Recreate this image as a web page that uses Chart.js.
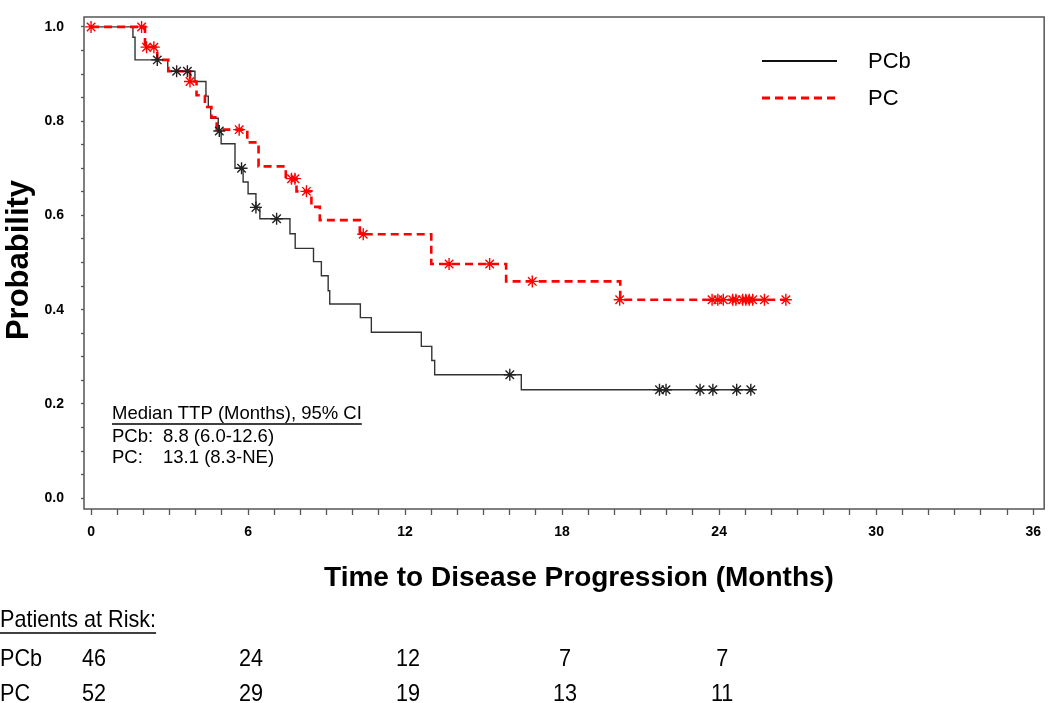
<!DOCTYPE html>
<html>
<head>
<meta charset="utf-8">
<script src="https://cdn.jsdelivr.net/npm/chart.js@4.4.0/dist/chart.umd.min.js"></script>
<style>
  body { margin: 0; background: #fff; }
  canvas { display: block; }
</style>
</head>
<body>
<canvas id="ctx-km" width="1050" height="703"></canvas>
<script>
// step points (months, survival probability)
const pcbTime = [0, 1.6, 1.68, 2.93, 3.97, 4.39, 4.48, 4.57, 4.86, 4.97, 5.5, 5.81, 6.0, 6.3, 6.45, 7.6, 7.8, 8.5, 8.8, 9.06, 9.12, 10.29, 10.71, 12.62, 13.02, 13.13, 16.44, 25.2];
const pcbProb = [1.0, 0.978, 0.93, 0.906, 0.884, 0.853, 0.83, 0.806, 0.779, 0.752, 0.70, 0.671, 0.646, 0.617, 0.593, 0.561, 0.53, 0.502, 0.472, 0.44, 0.412, 0.383, 0.352, 0.322, 0.292, 0.262, 0.23, 0.23];
const pcbCensorTime = [2.53, 3.27, 3.68, 4.9, 5.75, 6.3, 7.09, 16.0, 21.72, 21.97, 23.27, 23.76, 24.67, 25.21];
const pcbCensorProb = [0.93, 0.906, 0.906, 0.779, 0.70, 0.617, 0.593, 0.262, 0.23, 0.23, 0.23, 0.23, 0.23, 0.23];

const pcTime = [0, 2.06, 2.53, 2.95, 3.78, 4.03, 4.35, 4.6, 4.8, 5.97, 6.4, 7.44, 7.85, 8.42, 8.74, 10.27, 13.0, 15.86, 20.22, 26.55];
const pcProb = [1.0, 0.957, 0.93, 0.906, 0.884, 0.855, 0.83, 0.808, 0.782, 0.755, 0.704, 0.678, 0.651, 0.618, 0.59, 0.56, 0.497, 0.46, 0.421, 0.421];
const pcCensorTime = [0, 1.93, 2.12, 2.4, 3.78, 5.66, 7.66, 7.79, 8.23, 10.4, 13.68, 15.23, 16.86, 20.2, 23.73, 23.95, 24.16, 24.52, 24.64, 24.9, 25.02, 25.15, 25.28, 25.73, 26.55];
const pcCensorProb = [1.0, 1.0, 0.957, 0.957, 0.884, 0.782, 0.678, 0.678, 0.651, 0.56, 0.497, 0.497, 0.46, 0.421, 0.421, 0.421, 0.421, 0.421, 0.421, 0.421, 0.421, 0.421, 0.421, 0.421, 0.421];

const xTickValues = [...Array(37).keys()];
const xLabelEvery = 6;
const yTickValues = [...Array(21).keys()].map(i => i * 0.05);

const seriesNames = ['PCb', 'PC'];
const medianTitle = 'Median TTP (Months), 95% CI';
const medianLabels = ['PCb:', 'PC:'];
const medianValues = ['8.8 (6.0-12.6)', '13.1 (8.3-NE)'];

const riskTitle = 'Patients at Risk:';
const riskTimes = [0, 6, 12, 18, 24];
const pcbAtRisk = [46, 24, 12, 7, 7];
const pcAtRisk = [52, 29, 19, 13, 11];

const xTitle = 'Time to Disease Progression (Months)';
const yTitle = 'Probability';

const toPoints = (xs, ys) => xs.map((x, i) => ({ x: x, y: ys[i] }));

const FONT = '"Liberation Sans", Arial, sans-serif';

const textPlugin = {
    id: 'kmText',
    beforeDatasetsDraw: (chart) => {
        const { ctx, chartArea } = chart;
        ctx.save();
        ctx.strokeStyle = '#555';
        ctx.lineWidth = 1.5;
        ctx.strokeRect(chartArea.left, chartArea.top, chartArea.right - chartArea.left, chartArea.bottom - chartArea.top);
        ctx.restore();
    },
    afterDraw: (chart) => {
        const { ctx } = chart;
        const xs = chart.scales.x;
        ctx.save();
        ctx.fillStyle = '#000';
        ctx.textBaseline = 'middle';

        // legend
        ctx.lineWidth = 2;
        ctx.strokeStyle = '#111';
        ctx.beginPath(); ctx.moveTo(762, 61); ctx.lineTo(837, 61); ctx.stroke();
        ctx.strokeStyle = '#ff0000';
        ctx.lineWidth = 3;
        ctx.setLineDash([8, 5]);
        ctx.beginPath(); ctx.moveTo(762, 98); ctx.lineTo(837, 98); ctx.stroke();
        ctx.setLineDash([]);
        ctx.font = '22px ' + FONT;
        ctx.textAlign = 'left';
        ctx.fillText(seriesNames[0], 868, 62);
        ctx.fillText(seriesNames[1], 868, 99);

        // median box
        ctx.font = '18.5px ' + FONT;
        ctx.fillText(medianTitle, 112, 414);
        const mw = ctx.measureText(medianTitle).width;
        ctx.lineWidth = 1.4;
        ctx.strokeStyle = '#000';
        ctx.beginPath(); ctx.moveTo(112, 424); ctx.lineTo(112 + mw, 424); ctx.stroke();
        medianLabels.forEach((lab, i) => {
            ctx.fillText(lab, 112, 437 + i * 21);
            ctx.fillText(medianValues[i], 163, 437 + i * 21);
        });

        // axis titles
        ctx.font = 'bold 28px ' + FONT;
        ctx.textAlign = 'center';
        ctx.fillText(xTitle, 579, 578);
        ctx.save();
        ctx.translate(19, 260);
        ctx.rotate(-Math.PI / 2);
        ctx.font = 'bold 31px ' + FONT;
        ctx.fillText(yTitle, 0, 0);
        ctx.restore();

        // patients at risk (condensed face)
        ctx.save();
        ctx.scale(0.9, 1);
        ctx.font = '24px ' + FONT;
        ctx.textAlign = 'left';
        ctx.fillText(riskTitle, 0, 620);
        const rw = ctx.measureText(riskTitle).width;
        ctx.lineWidth = 1.4;
        ctx.beginPath(); ctx.moveTo(0, 633); ctx.lineTo(rw, 633); ctx.stroke();
        ctx.fillText(seriesNames[0], 0, 659);
        ctx.fillText(seriesNames[1], 0, 694);
        ctx.textAlign = 'center';
        riskTimes.forEach((t, i) => {
            const px = (xs.getPixelForValue(t) + 3) / 0.9;
            ctx.fillText(String(pcbAtRisk[i]), px, 659);
            ctx.fillText(String(pcAtRisk[i]), px, 694);
        });
        ctx.restore();
        ctx.restore();
    }
};

const ctx = document.getElementById('ctx-km');

const chart = new Chart(ctx, {
    type: 'line',
    data: {
        datasets: [
            {
                label: 'PCb censored',
                data: toPoints(pcbCensorTime, pcbCensorProb),
                showLine: false,
                pointStyle: 'star',
                pointRadius: 6,
                pointBorderWidth: 1.4,
                pointBorderColor: '#222',
                borderColor: '#222'
            },
            {
                label: 'PC censored',
                data: toPoints(pcCensorTime, pcCensorProb),
                showLine: false,
                pointStyle: 'star',
                pointRadius: 6,
                pointBorderWidth: 1.4,
                pointBorderColor: '#ff0000',
                borderColor: '#ff0000'
            },
            {
                label: 'PC',
                data: toPoints(pcTime, pcProb),
                stepped: true,
                borderColor: '#ff0000',
                borderWidth: 2.6,
                borderDash: [8, 5],
                pointRadius: 0,
                fill: false
            },
            {
                label: 'PCb',
                data: toPoints(pcbTime, pcbProb),
                stepped: true,
                borderColor: '#333',
                borderWidth: 1.4,
                pointRadius: 0,
                fill: false
            }
        ]
    },
    options: {
        responsive: false,
        animation: false,
        layout: { autoPadding: false, padding: { top: 17, right: 3, left: 0, bottom: 0 } },
        plugins: {
            legend: { display: false },
            tooltip: { enabled: false }
        },
        scales: {
            x: {
                type: 'linear',
                min: -0.27,
                max: 36.42,
                afterBuildTicks: (s) => { s.ticks = xTickValues.map(v => ({ value: v })); },
                afterFit: (s) => { s.height = 194; },
                border: { display: false },
                grid: { drawOnChartArea: false, tickLength: 6, color: '#555', tickWidth: 1.3 },
                ticks: {
                    autoSkip: false,
                    maxRotation: 0,
                    padding: 9,
                    color: '#000',
                    font: { family: FONT, size: 14, weight: 'bold' },
                    callback: (v) => (v % xLabelEvery === 0 ? String(v) : '')
                }
            },
            y: {
                type: 'linear',
                min: -0.023,
                max: 1.021,
                afterBuildTicks: (s) => { s.ticks = yTickValues.map(v => ({ value: v })); },
                afterFit: (s) => {
                    s.width = 84;
                    s.paddingTop = 0;
                    s.paddingBottom = 0;
                },
                border: { display: false },
                grid: { drawOnChartArea: false, tickLength: 3, color: '#555', tickWidth: 1.3 },
                ticks: {
                    autoSkip: false,
                    padding: 17,
                    color: '#000',
                    font: { family: FONT, size: 14, weight: 'bold' },
                    callback: (v) => (Math.round(v * 100) % 20 === 0 ? v.toFixed(1) : '')
                }
            }
        }
    },
    plugins: [textPlugin]
});
</script>
</body>
</html>
